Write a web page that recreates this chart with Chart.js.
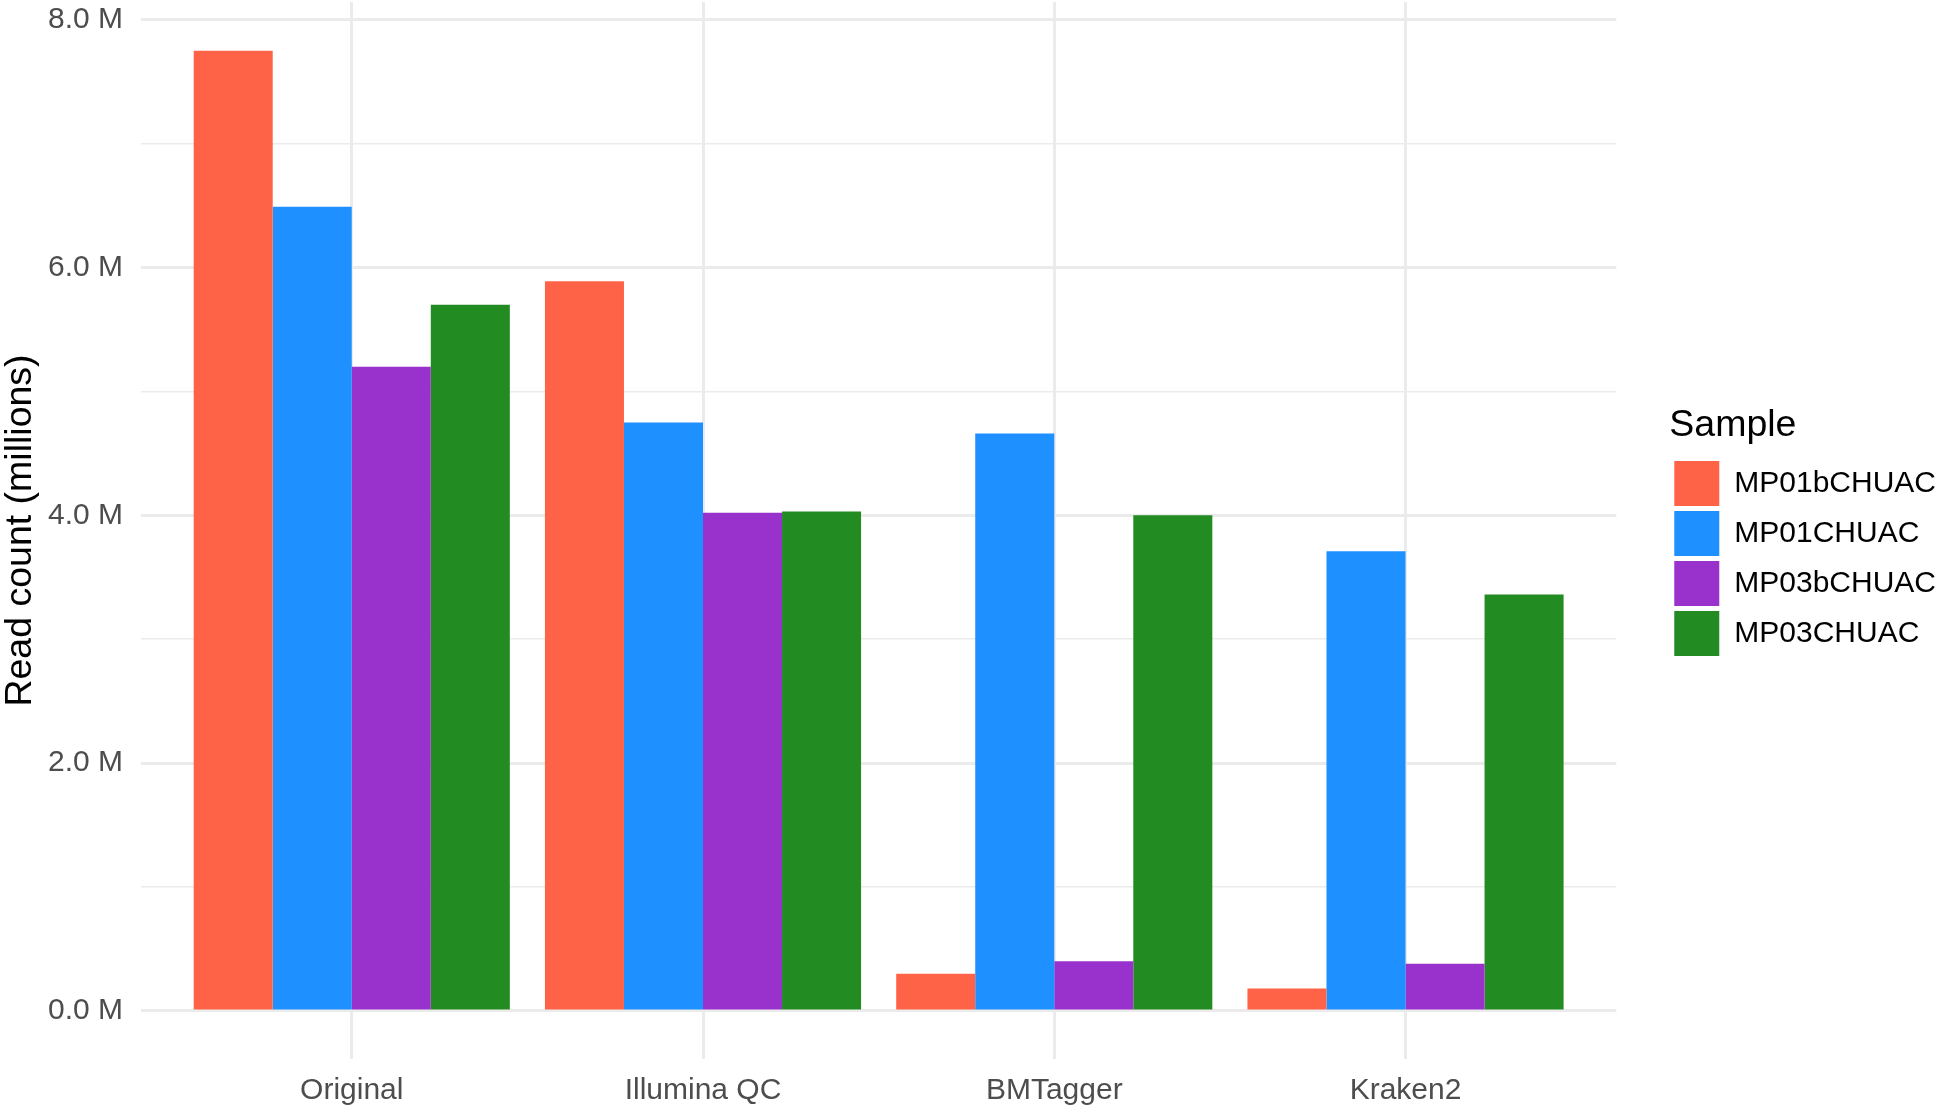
<!DOCTYPE html>
<html>
<head>
<meta charset="utf-8">
<script src="https://cdn.jsdelivr.net/npm/chart.js@4.4.1/dist/chart.umd.min.js"></script>
<style>
  html, body { margin: 0; padding: 0; background: #fff; }
</style>
</head>
<body>
<canvas id="myChart" width="1946" height="1107"></canvas>
<script>
// categories (x axis) and samples (legend)
const categories = ['Original', 'Illumina QC', 'BMTagger', 'Kraken2'];
const samples = ['MP01bCHUAC', 'MP01CHUAC', 'MP03bCHUAC', 'MP03CHUAC'];

// read counts in millions, one array per sample
const mp01bValues = [7.75, 5.89, 0.30, 0.18];
const mp01Values = [6.49, 4.75, 4.66, 3.71];
const mp03bValues = [5.20, 4.02, 0.40, 0.38];
const mp03Values = [5.70, 4.03, 4.00, 3.36];

const sampleColors = ['#FF6347', '#1E90FF', '#9932CC', '#228B22'];

// y ticks: majors labelled, minors only drawn as grid lines
const yTickValues = [0, 1, 2, 3, 4, 5, 6, 7, 8];
const yTickLabels = ['0.0 M', '', '2.0 M', '', '4.0 M', '', '6.0 M', '', '8.0 M'];

Chart.defaults.font.family = "'Liberation Sans', Arial, Helvetica, sans-serif";

const allValues = [mp01bValues, mp01Values, mp03bValues, mp03Values];
const datasets = samples.map((name, i) => ({
    label: name,
    data: allValues[i].map((v, j) => ({ x: j + 1, y: v })),
    backgroundColor: sampleColors[i],
    borderWidth: 0,
    yAxisID: 'y'
}));

const ctx = document.getElementById('myChart');

new Chart(ctx, {
    type: 'bar',
    data: { datasets: datasets },
    options: {
        responsive: false,
        animation: false,
        devicePixelRatio: 1,
        categoryPercentage: 0.9,
        barPercentage: 1.0,
        layout: { padding: { top: 2, left: 0, right: 0, bottom: 0 } },
        scales: {
            x: {
                type: 'linear',
                min: 0.4,
                max: 4.6,
                offset: false,
                afterBuildTicks: scale => {
                    scale.ticks = categories.map((c, i) => ({ value: i + 1 }));
                },
                afterFit: scale => {
                    scale.height = 48;
                    scale.paddingLeft = 0;
                    scale.paddingRight = 0;
                },
                ticks: {
                    padding: 14,
                    color: '#4D4D4D',
                    font: { size: 30 },
                    maxRotation: 0,
                    callback: value => categories[value - 1]
                },
                grid: { color: '#EBEBEB', lineWidth: 3, drawTicks: false, offset: false },
                border: { display: false }
            },
            y: {
                type: 'linear',
                position: 'left',
                min: -0.388,
                max: 8.143,
                afterBuildTicks: scale => {
                    scale.ticks = yTickValues.map(v => ({ value: v }));
                },
                afterFit: scale => {
                    scale.width = 141;
                    scale.paddingTop = 0;
                    scale.paddingBottom = 0;
                },
                ticks: {
                    padding: 18,
                    color: '#4D4D4D',
                    font: { size: 30 },
                    callback: (value, index) => yTickLabels[index]
                },
                grid: {
                    color: '#EBEBEB',
                    lineWidth: c => (c.tick && c.tick.value % 2 === 0) ? 3 : 1.5,
                    drawTicks: false
                },
                border: { display: false },
                title: {
                    display: true,
                    text: 'Read count (millions)',
                    color: '#000000',
                    font: { size: 37.5, lineHeight: 1.1 },
                    padding: 0
                }
            },
            yR: {
                type: 'linear',
                position: 'right',
                afterFit: scale => {
                    scale.width = 53;
                    scale.paddingTop = 0;
                    scale.paddingBottom = 0;
                },
                ticks: { display: false },
                grid: { display: false },
                border: { display: false }
            }
        },
        plugins: {
            tooltip: { enabled: false },
            legend: {
                position: 'right',
                align: 'start',
                title: {
                    display: true,
                    text: 'Sample',
                    color: '#000000',
                    position: 'start',
                    font: { size: 37.5, lineHeight: 1.2 },
                    padding: { top: 405, bottom: 4 }
                },
                labels: {
                    boxWidth: 45,
                    boxHeight: 45,
                    padding: 5,
                    color: '#000000',
                    font: { size: 30 }
                }
            }
        }
    }
});
</script>
</body>
</html>
